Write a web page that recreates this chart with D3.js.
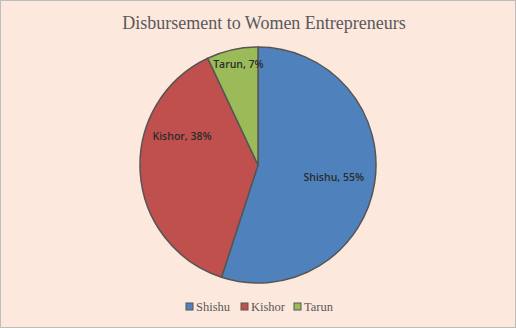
<!DOCTYPE html>
<html><head><meta charset="utf-8">
<script src="https://cdn.jsdelivr.net/npm/d3@7"></script>
<style>html,body{margin:0;padding:0;background:#fff;}svg{display:block;}</style>
</head><body>
<svg id="chart" width="516" height="328"></svg>
<script>
const categories = ["Shishu", "Kishor", "Tarun"];
const values = [55, 38, 7];
const colors = ["#4f81bd", "#c0504d", "#9bbb59"];
const title = "Disbursement to Women Entrepreneurs";

const W = 516, H = 328;
const cx = 258, cy = 165, R = 118;
const svg = d3.select("#chart");

svg.append("rect").attr("x",0.5).attr("y",0.5).attr("width",W-1).attr("height",H-1)
  .attr("fill","#fce8dc").attr("stroke","#bdbdbd").attr("stroke-width",1);

svg.append("text").attr("x",264).attr("y",29).attr("text-anchor","middle")
  .attr("font-family","'Liberation Serif', serif").attr("font-size",18)
  .attr("fill","#595959").text(title);

const pie = d3.pie().sort(null).value(d=>d.v);
const data = pie(categories.map((c,i)=>({c, v: values[i], col: colors[i]})));
const arc = d3.arc().innerRadius(0).outerRadius(R);

const g = svg.append("g").attr("transform",`translate(${cx},${cy})`);
g.selectAll("path").data(data).join("path")
  .attr("d",arc).attr("fill",d=>d.data.col)
  .attr("stroke","#555").attr("stroke-width",1.5).attr("stroke-linejoin","round");

// label placement (Excel best-fit approximations): angle (deg from top, clockwise) and radius fraction
const labelPos = [[99, 0.65], [291, 0.69], [349, 0.87]];
g.selectAll("text.lbl").data(data).join("text").attr("class","lbl")
  .attr("x",(d,i)=>Math.sin(labelPos[i][0]*Math.PI/180)*R*labelPos[i][1])
  .attr("y",(d,i)=>-Math.cos(labelPos[i][0]*Math.PI/180)*R*labelPos[i][1])
  .attr("dy","0.35em").attr("text-anchor","middle")
  .attr("font-family","'Open Sans', sans-serif").attr("font-size",10.5).attr("font-weight",600)
  .attr("fill","#2b2b2b")
  .text(d=>`${d.data.c}, ${d.data.v}%`);

// legend
const legX = [186, 241, 294];
const leg = svg.append("g");
categories.forEach((c,i)=>{
  leg.append("rect").attr("x",legX[i]).attr("y",303).attr("width",7).attr("height",7)
    .attr("fill",colors[i]).attr("stroke","#555").attr("stroke-width",1);
  leg.append("text").attr("x",legX[i]+10).attr("y",311)
    .attr("font-family","'Liberation Serif', serif").attr("font-size",12.5)
    .attr("fill","#595959").text(c);
});
</script>
</body></html>
